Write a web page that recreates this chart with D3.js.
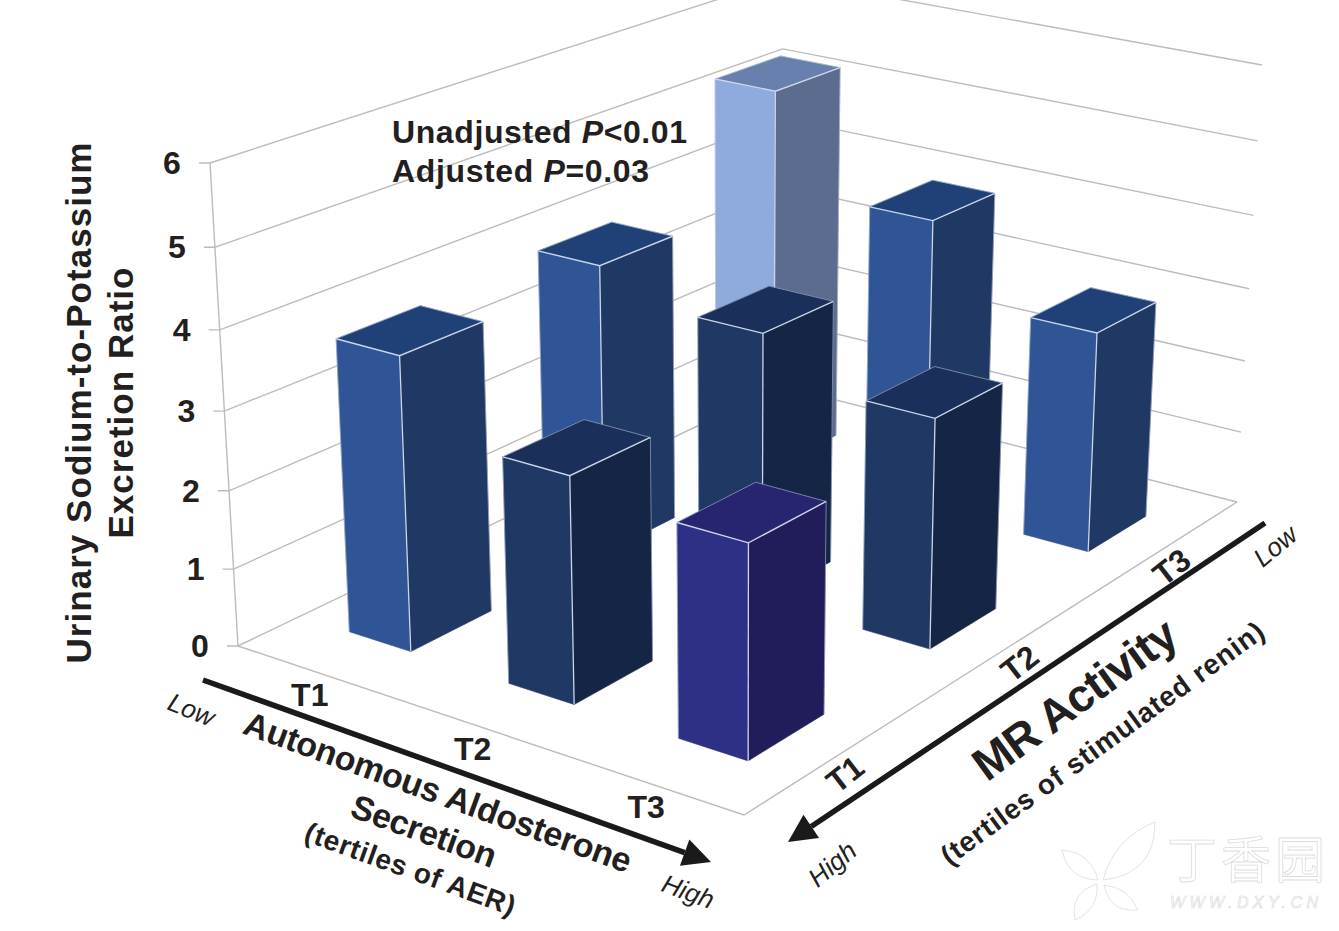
<!DOCTYPE html>
<html><head><meta charset="utf-8">
<script src="https://cdn.jsdelivr.net/npm/d3@7"></script>
<style>html,body{margin:0;padding:0;background:#fff;overflow:hidden}svg{display:block}
text{font-family:"Liberation Sans",Arial,sans-serif;fill:#231f20}</style></head><body>
<svg id="c" width="1339" height="931"></svg>
<script>
const aerLevels=["T1","T2","T3"];
const mrLevels=["T1","T2","T3"];
const zTicks=[0,1,2,3,4,5,6];
// rows follow mrLevels, columns follow aerLevels
const mrT1Values=[3.75,2.85,2.65];
const mrT2Values=[3.86,3.5,2.97];
const mrT3Values=[5.27,3.98,2.98];
const mrT1Tones=["mid","dark","purple"];
const mrT2Tones=["mid","dark","dark"];
const mrT3Tones=["light","mid","mid"];
const tones={
 mid:{front:"#2f5597",side:"#1f3864",top:"#1f4178"},
 dark:{front:"#1f3864",side:"#142545",top:"#1a2f5a"},
 purple:{front:"#2e3085",side:"#201d5a",top:"#272570"},
 light:{front:"#8faadc",side:"#5c6c8f",top:"#6880ad"}
};
const cL=[238,646],cF=[744,815],cR=[1237,502],cB=[781,386];
const verticalVanish=[737,9260],leftTop6=163;

// unit square -> floor homography
function solveHomography(p00,p10,p11,p01){
 const dx1=p10[0]-p11[0],dx2=p01[0]-p11[0],sx=p00[0]-p10[0]+p11[0]-p01[0];
 const dy1=p10[1]-p11[1],dy2=p01[1]-p11[1],sy=p00[1]-p10[1]+p11[1]-p01[1];
 const d=dx1*dy2-dx2*dy1;
 const g=(sx*dy2-dx2*sy)/d,h=(dx1*sy-sx*dy1)/d;
 return [[p10[0]-p00[0]+g*p10[0],p01[0]-p00[0]+h*p01[0],p00[0]],
         [p10[1]-p00[1]+g*p10[1],p01[1]-p00[1]+h*p01[1],p00[1]],
         [g,h,1]];
}
const H=solveHomography(cL,cF,cR,cB);
const c=(leftTop6-cL[1])/(6*(verticalVanish[1]-leftTop6));
function project(u,v,z){
 const X=H[0][0]*u+H[0][1]*v+H[0][2]+z*c*verticalVanish[0];
 const Y=H[1][0]*u+H[1][1]*v+H[1][2]+z*c*verticalVanish[1];
 const W=H[2][0]*u+H[2][1]*v+H[2][2]+z*c;
 return [X/W,Y/W];
}
const uScale=d3.scaleBand().domain(aerLevels).range([0.004,1.003]).paddingInner(0.607).paddingOuter(0.305);
const vScale=d3.scaleBand().domain(mrLevels).range([0,0.994]).paddingInner(0.6).paddingOuter(0.293);
const zScale=d3.scaleLinear().domain([0,6]).range([0,6]);

const svg=d3.select("#c");
const line=d3.line();
const grid="#bcbcbc";
const gWall=svg.append("g").attr("fill","none").attr("stroke",grid).attr("stroke-width",1.4);
zTicks.forEach(t=>{
 const z=zScale(t),p=project(0,0,z);
 gWall.append("path").attr("d",line([[p[0]-11,p[1]],p,project(0,1,z),project(1,1,z)]));
});
gWall.append("path").attr("d",line([project(0,0,0),project(0,0,6)]));
gWall.append("path").attr("d",line([project(0,0,0),project(1,0,0),project(1,1,0)]));

const valueRows=[mrT1Values,mrT2Values,mrT3Values],toneRows=[mrT1Tones,mrT2Tones,mrT3Tones];
const bars=[];
mrLevels.forEach((m,j)=>aerLevels.forEach((a,i)=>bars.push({a,m,value:valueRows[j][i],tone:toneRows[j][i]})));
bars.sort((p,q)=>(uScale(p.a)-vScale(p.m))-(uScale(q.a)-vScale(q.m)));
const edge="#ccd6ea";
const gB=svg.append("g");
bars.forEach(b=>{
 const u0=uScale(b.a),u1=u0+uScale.bandwidth(),v0=vScale(b.m),v1=v0+vScale.bandwidth(),z=zScale(b.value);
 const t=tones[b.tone],g=gB.append("g");
 const lb=project(u0,v0,0),fb=project(u1,v0,0),rb=project(u1,v1,0);
 const lt=project(u0,v0,z),ft=project(u1,v0,z),rt=project(u1,v1,z),bt=project(u0,v1,z);
 const poly=(pts,f)=>g.append("path").attr("d",line(pts)+"Z").attr("fill",f).attr("stroke",f).attr("stroke-width",0.6);
 poly([lb,fb,ft,lt],t.front);
 poly([fb,rb,rt,ft],t.side);
 poly([lt,ft,rt,bt],t.top);
 g.append("path").attr("d",line([lt,ft,rt])).attr("fill","none").attr("stroke",edge).attr("stroke-width",1.4);
 g.append("path").attr("d",line([ft,fb])).attr("fill","none").attr("stroke",edge).attr("stroke-width",1.3);
 g.append("path").attr("d",line([lb,lt,bt,rt,rb])).attr("fill","none").attr("stroke",edge).attr("stroke-width",0.7).attr("stroke-opacity",0.75);
});

// value axis labels
const gT=svg.append("g");
zTicks.forEach(t=>{
 const p=project(0,0,zScale(t));
 gT.append("text").attr("x",p[0]-38).attr("y",p[1]+11).attr("text-anchor","middle")
  .attr("font-size",32).attr("font-weight","bold").text(t);
});
function label(txt,x,y,rot,size,opt={}){
 const s=gT.append("text").attr("transform",`translate(${x},${y}) rotate(${rot})`).attr("text-anchor","middle")
  .attr("font-size",size).attr("font-weight",opt.normal?"normal":"bold").attr("font-style",opt.italic?"italic":"normal").text(txt);
 if(opt.len)s.attr("textLength",opt.len).attr("lengthAdjust","spacing");
 return s;
}
aerLevels.forEach(a=>{
 const p=project(uScale(a)+uScale.bandwidth()/2,0,0);
 label(a,p[0]-8,p[1]+33,0,32);
});
mrLevels.forEach(m=>{
 const p=project(1,vScale(m)+vScale.bandwidth()/2,0);
 label(m,p[0]+12,p[1]+29,-38,32);
});
label("Urinary Sodium-to-Potassium",91,403,-90,35,{len:521});
label("Excretion Ratio",133,403,-90,35,{len:271});
const inf=gT.append("g");
function pLine(x,y,a,b,c2,len){
 const t=inf.append("text").attr("x",x).attr("y",y).attr("font-size",32).attr("font-weight","bold").attr("textLength",len);
 t.append("tspan").text(a);t.append("tspan").attr("font-style","italic").text(b);t.append("tspan").text(c2);
}
pLine(392,143,"Unadjusted ","P","<0.01",295);
pLine(392,182,"Adjusted ","P","=0.03",257);
label("Autonomous Aldosterone",434,803,20,34,{len:410});
label("Secretion",420,842,20,34,{len:152});
label("(tertiles of AER)",407,878,20,28,{len:222});
label("Low",188,718,22,26,{normal:true,italic:true});
label("High",685,900,20,26,{normal:true,italic:true});
label("MR Activity",1084,712,-36,46,{len:240});
label("(tertiles of stimulated renin)",1108,751,-36,28,{len:392});
label("Low",1281,553,-40,26,{normal:true,italic:true});
label("High",838,871,-40,26,{normal:true,italic:true});

// axis arrows
const gA=svg.append("g").attr("fill","#1a1a1a").attr("stroke","#1a1a1a");
function arrow(a,b,hl,hw){
 const ang=Math.atan2(b[1]-a[1],b[0]-a[0]),ca=Math.cos(ang),sa=Math.sin(ang);
 const base=[b[0]-hl*ca,b[1]-hl*sa];
 gA.append("path").attr("d",line([a,base])).attr("fill","none").attr("stroke-width",5.5);
 gA.append("path").attr("stroke","none").attr("d",line([b,[base[0]-hw*sa,base[1]+hw*ca],[base[0]+hw*sa,base[1]-hw*ca]])+"Z");
}
arrow([203,680],[711,862],28,14);
arrow([1265,523],[788,842],28,14);

// watermark
const gW=svg.append("g").attr("fill","#fff").attr("stroke","#dcdcdc").attr("stroke-width",0.8);
const leaf=(ax,ay,bx,by,k1,k2)=>{
 const mx=(ax+bx)/2,my=(ay+by)/2,dx=bx-ax,dy=by-ay;
 const p=d3.path();p.moveTo(ax,ay);
 p.quadraticCurveTo(mx-dy*k1,my+dx*k1,bx,by);
 p.quadraticCurveTo(mx+dy*k2,my-dx*k2,ax,ay);
 gW.append("path").attr("d",p.toString());
};
leaf(1103,880,1155,822,0.45,0.25);
leaf(1098,880,1062,850,0.35,0.4);
leaf(1097,884,1075,920,0.45,0.35);
leaf(1104,885,1138,910,0.45,0.3);
gW.append("text").attr("x",1167).attr("y",878).attr("font-size",50).attr("textLength",158)
 .style("font-family",'"Noto Sans CJK SC"').style("fill","#fff").style("stroke","#dcdcdc").text("丁香园");
gW.append("text").attr("x",1170).attr("y",908).attr("font-size",16).attr("font-style","italic").attr("textLength",148)
 .style("fill","#fff").style("stroke","#d8d8d8").style("stroke-width",0.6).text("WWW.DXY.CN");
</script></body></html>
